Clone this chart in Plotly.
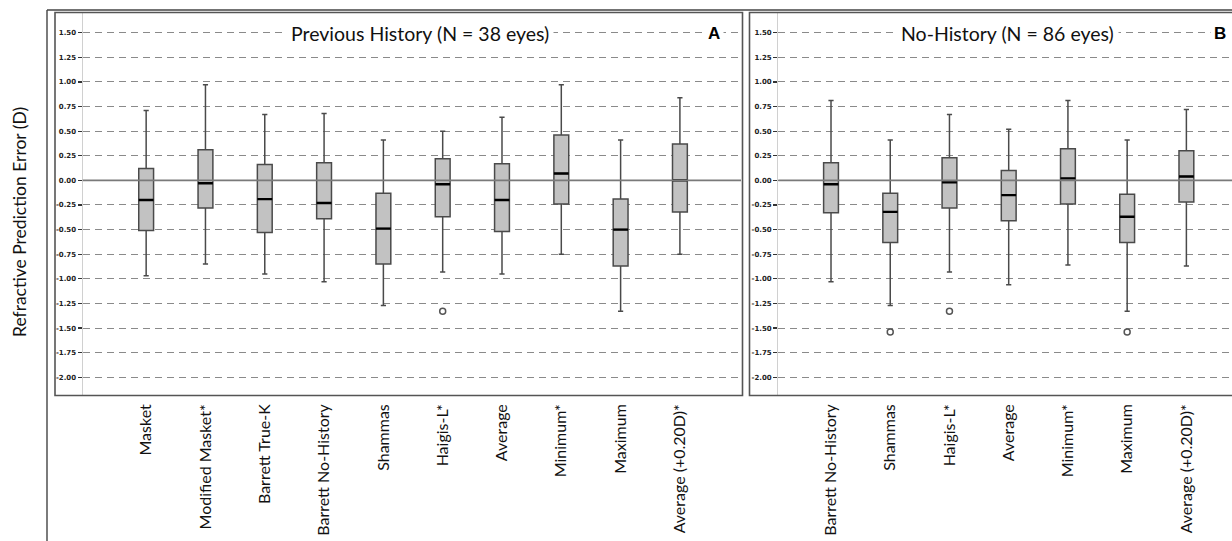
import plotly.graph_objects as go

W, H = 1232, 541

# ---------------- data ----------------
cats_a = ["Masket", "Modified Masket*", "Barrett True-K", "Barrett No-History", "Shammas",
          "Haigis-L*", "Average", "Minimum*", "Maximum", "Average (+0.20D)*"]
upper_a = [0.71, 0.97, 0.67, 0.68, 0.41, 0.50, 0.64, 0.97, 0.41, 0.84]
q3_a = [0.12, 0.31, 0.16, 0.18, -0.13, 0.22, 0.17, 0.46, -0.19, 0.37]
med_a = [-0.20, -0.03, -0.19, -0.23, -0.49, -0.04, -0.20, 0.07, -0.50, 0.00]
q1_a = [-0.51, -0.28, -0.53, -0.39, -0.85, -0.37, -0.52, -0.24, -0.87, -0.32]
lower_a = [-0.97, -0.85, -0.95, -1.03, -1.27, -0.93, -0.95, -0.75, -1.33, -0.75]
out_a_cat = ["Haigis-L*"]
out_a_val = [-1.33]

cats_b = ["Barrett No-History", "Shammas", "Haigis-L*", "Average", "Minimum*", "Maximum",
          "Average (+0.20D)*"]
upper_b = [0.81, 0.41, 0.67, 0.52, 0.81, 0.41, 0.72]
q3_b = [0.18, -0.13, 0.23, 0.10, 0.32, -0.14, 0.30]
med_b = [-0.04, -0.32, -0.02, -0.15, 0.02, -0.37, 0.04]
q1_b = [-0.33, -0.63, -0.28, -0.41, -0.24, -0.63, -0.22]
lower_b = [-1.03, -1.27, -0.93, -1.06, -0.86, -1.33, -0.87]
out_b_cat = ["Shammas", "Haigis-L*", "Maximum"]
out_b_val = [-1.54, -1.33, -1.54]

y_ticks = [1.5, 1.25, 1.0, 0.75, 0.5, 0.25, 0.0, -0.25, -0.5, -0.75, -1.0, -1.25, -1.5, -1.75, -2.0]
y_ticktext = ["1.50", "1.25", "1.00", "0.75", "0.50", "0.25", "0.00", "-0.25", "-0.50", "-0.75",
              "-1.00", "-1.25", "-1.50", "-1.75", "-2.00"]

title_a = "Previous History (N = 38 eyes)"
title_b = "No-History (N = 86 eyes)"
y_title = "Refractive Prediction Error (D)"

# ---------------- styling ----------------
FONT = "Lato"
BOX_W = 0.25
FILL = "#c2c2c2"
EDGE = "#4a4a4a"
GRID = "#8a8a8a"


def px_x(p):
    return p / W


def px_y(p):
    return 1 - p / H


fig = go.Figure()


def add_panel(cats, lo, q1, med, q3, hi, oc, ov, xa, ya):
    idx = list(range(len(cats)))
    fig.add_trace(go.Box(
        x=idx, q1=q1, median=med, q3=q3, lowerfence=lo, upperfence=hi,
        width=BOX_W, whiskerwidth=0.35, fillcolor=FILL,
        line=dict(color=EDGE, width=1.5), boxpoints=False,
        xaxis=xa, yaxis=ya, showlegend=False, hoverinfo="skip"))
    mx, my = [], []
    for i, m in zip(idx, med):
        mx += [i - BOX_W / 2, i + BOX_W / 2, None]
        my += [m, m, None]
    fig.add_trace(go.Scatter(x=mx, y=my, mode="lines",
                             line=dict(color="#000000", width=2.4),
                             xaxis=xa, yaxis=ya, showlegend=False, hoverinfo="skip"))
    fig.add_trace(go.Scatter(x=[cats.index(c) for c in oc], y=ov, mode="markers",
                             marker=dict(symbol="circle-open", size=6,
                                         color="#555555", line=dict(width=1.5)),
                             xaxis=xa, yaxis=ya, showlegend=False, hoverinfo="skip"))


add_panel(cats_a, lower_a, q1_a, med_a, q3_a, upper_a, out_a_cat, out_a_val, "x", "y")
add_panel(cats_b, lower_b, q1_b, med_b, q3_b, upper_b, out_b_cat, out_b_val, "x2", "y2")

ydom = [px_y(395), px_y(13)]
yrange = [-2.18, 1.70]

xaxis_common = dict(
    tickmode="array", showgrid=False, zeroline=False, showline=False, ticks="",
    tickangle=-90, tickfont=dict(family=FONT, size=16, color="#111111"),
    ticklabelstandoff=5, fixedrange=True,
)
yaxis_common = dict(
    range=yrange, domain=ydom, tickmode="array", tickvals=y_ticks, ticktext=y_ticktext,
    showgrid=True, gridcolor=GRID, gridwidth=1, griddash="7px,5px",
    zeroline=False, showline=True, linecolor="#d0d0d0", linewidth=1.2,
    ticks="outside", ticklen=4, tickwidth=1.2, tickcolor="#333333",
    tickfont=dict(family="DejaVu Sans", size=7, color="#222222", weight="bold"),
    ticklabelstandoff=0, fixedrange=True,
)

fig.update_layout(
    width=W, height=H,
    margin=dict(l=0, r=0, t=0, b=0),
    paper_bgcolor="white", plot_bgcolor="white",
    xaxis=dict(domain=[px_x(82.7), px_x(741)], range=[-1.07, 10.03],
               tickvals=list(range(len(cats_a))), ticktext=cats_a, anchor="y", **xaxis_common),
    yaxis=dict(anchor="x", **yaxis_common),
    xaxis2=dict(domain=[px_x(778.3), 1.0], range=[-0.89, 6.77],
                tickvals=list(range(len(cats_b))), ticktext=cats_b, anchor="y2", **xaxis_common),
    yaxis2=dict(anchor="x2", **yaxis_common),
    showlegend=False,
)

# zero reference lines (above boxes)
for xr, yr in (("x domain", "y"), ("x2 domain", "y2")):
    fig.add_shape(type="line", xref=xr, yref=yr, x0=0, x1=1, y0=0, y1=0,
                  line=dict(color="#7a7a7a", width=1.6), layer="above")

# panel frames
frame = dict(color="#555555", width=1.6)
fig.add_shape(type="rect", xref="paper", yref="paper",
              x0=px_x(55), x1=px_x(742.5), y0=px_y(395.5), y1=px_y(12.5), line=frame)
fig.add_shape(type="rect", xref="paper", yref="paper",
              x0=px_x(749.5), x1=px_x(1240), y0=px_y(395.5), y1=px_y(12.5), line=frame)
# outer figure frame (left and top)
outer = dict(color="#444444", width=1.4)
fig.add_shape(type="line", xref="paper", yref="paper",
              x0=px_x(47), x1=px_x(47), y0=0, y1=px_y(10), line=outer)
fig.add_shape(type="line", xref="paper", yref="paper",
              x0=px_x(47), x1=1.0, y0=px_y(10), y1=px_y(10), line=outer)

# titles
fig.add_annotation(text=title_a, xref="paper", yref="paper", x=px_x(419.5), y=px_y(33),
                   showarrow=False, font=dict(family=FONT, size=19.5, color="#111111"),
                   bgcolor="white", borderpad=4, xanchor="center", yanchor="middle")
fig.add_annotation(text=title_b, xref="paper", yref="paper", x=px_x(1007), y=px_y(33),
                   showarrow=False, font=dict(family=FONT, size=19.5, color="#111111"),
                   bgcolor="white", borderpad=4, xanchor="center", yanchor="middle")
fig.add_annotation(text="<b>A</b>", xref="paper", yref="paper", x=px_x(714), y=px_y(33),
                   showarrow=False, font=dict(family="Liberation Sans", size=17, color="#000000"),
                   bgcolor="white", borderpad=3, xanchor="center", yanchor="middle")
fig.add_annotation(text="<b>B</b>", xref="paper", yref="paper", x=px_x(1220), y=px_y(33),
                   showarrow=False, font=dict(family="Liberation Sans", size=17, color="#000000"),
                   bgcolor="white", borderpad=3, xanchor="center", yanchor="middle")
fig.add_annotation(text=y_title, xref="paper", yref="paper", x=px_x(19), y=px_y(222),
                   showarrow=False, textangle=-90,
                   font=dict(family=FONT, size=17.5, color="#111111"),
                   xanchor="center", yanchor="middle")

# remove the default page margin so the figure fills the window exactly
fig.write_html("out.html",
               config={"displayModeBar": False, "staticPlot": True},
               post_script="document.body.style.margin='0';document.body.style.overflow='hidden';")
